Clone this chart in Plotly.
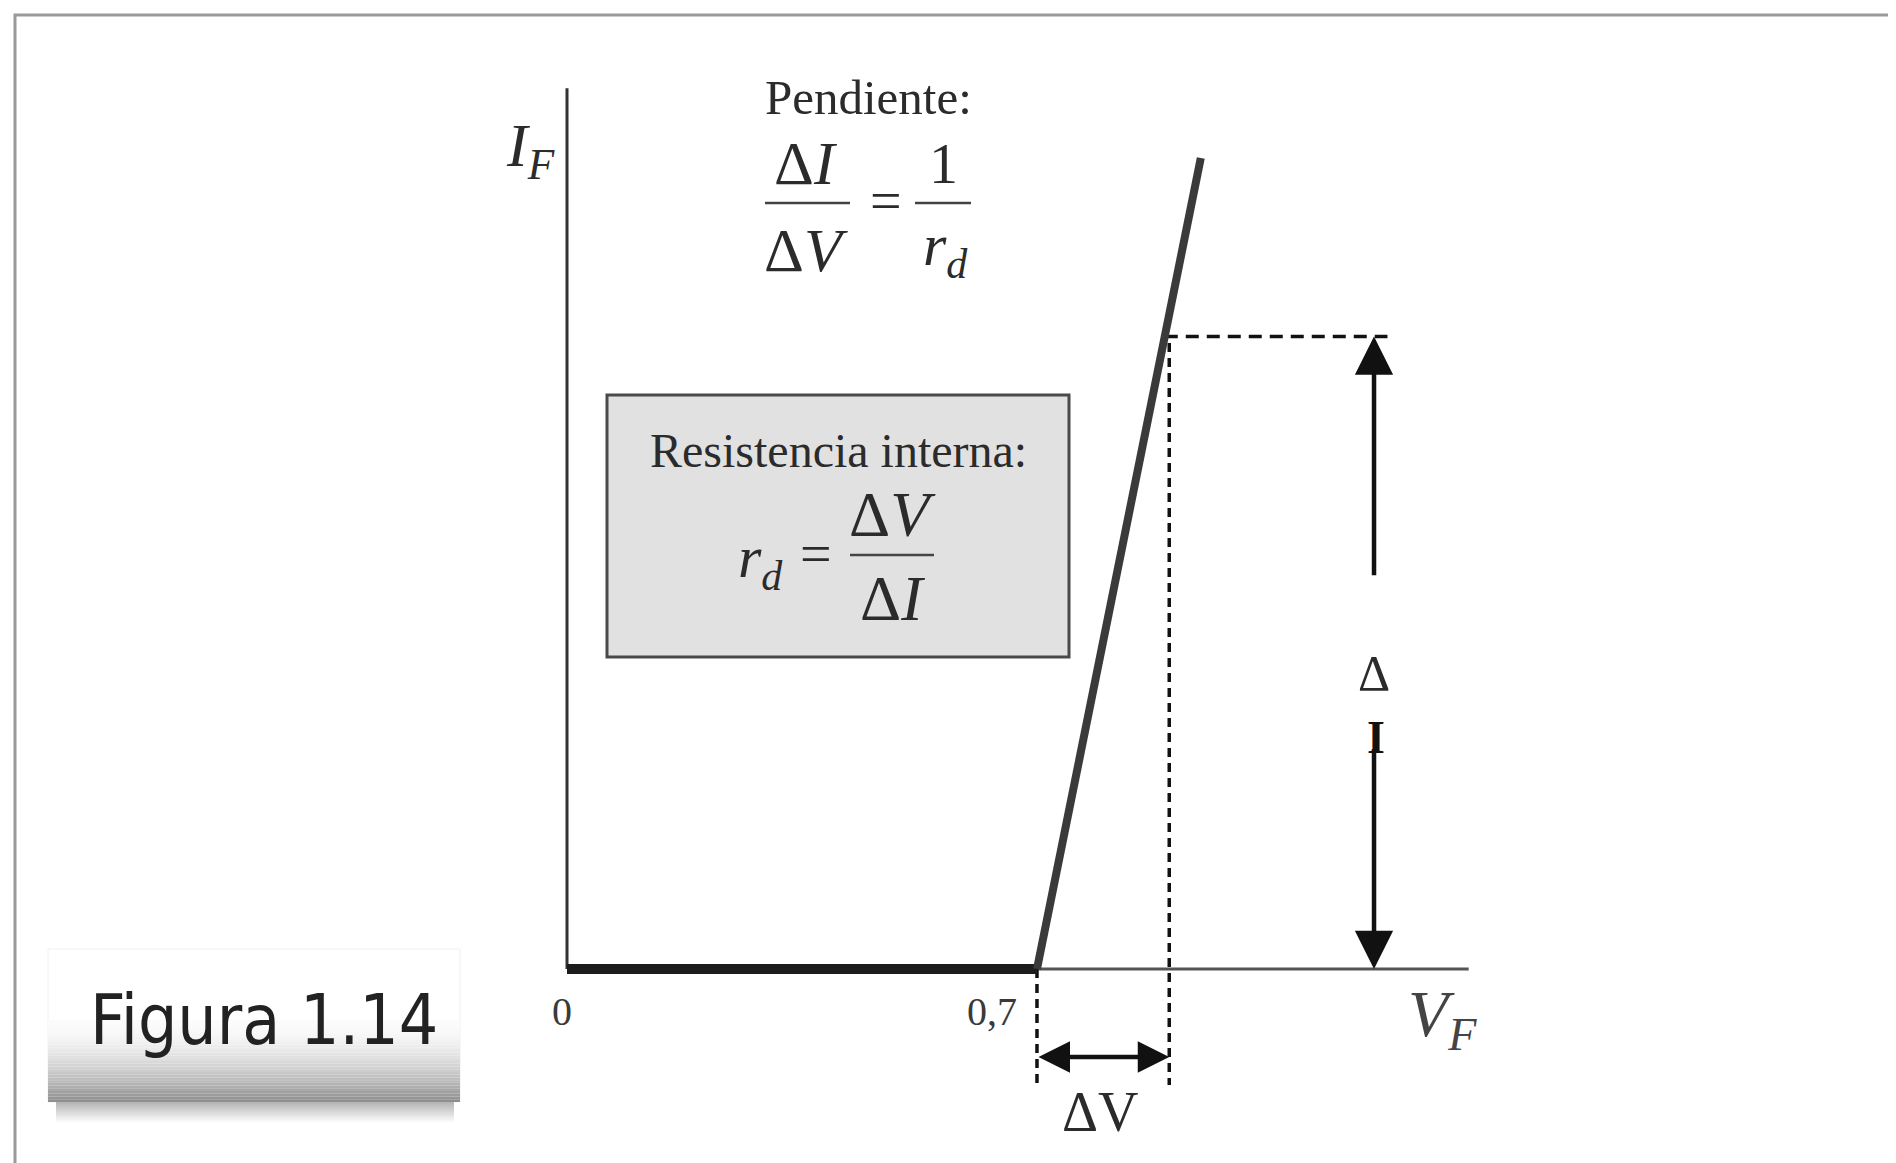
import plotly.graph_objects as go

# ---------------- data ----------------
V_curve = [0.0, 0.7, 0.944]      # diode piecewise-linear model (V)
I_curve = [0.0, 0.0, 10.0]       # forward current (arbitrary units)
V_knee = 0.7
V_op = 0.897                     # end of ΔV interval
I_op = 7.8                       # top of ΔI interval
V_axis_max = 1.343
I_axis_max = 10.86
V_dI_arrow = 1.202               # where the ΔI arrow is drawn
tick_vals = [0.0, 0.7]
tick_text = ["0", "0,7"]

# ---------------- layout geometry ----------------
W, H = 1896, 1163
OFF = 8                    # page offset of the figure (body margin)
X0, Y0 = 567 - OFF, 969 - OFF   # figure-pixel position of the origin
SX, SY = 671.4, 81.1       # pixels per volt / per current unit
xr = [-X0 / SX, (W - X0) / SX]
yr = [-(H - Y0) / SY, Y0 / SY]

def px(x):
    return (x - OFF) / W

def py(y):
    return 1 - (y - OFF) / H

def Iat(ypx):
    return (Y0 + OFF - ypx) / SY

SERIF = "Liberation Serif, Times New Roman, serif"
TXT = "#2b2b2b"

fig = go.Figure()

# axes
fig.add_trace(go.Scatter(x=[0, V_axis_max], y=[0, 0], mode="lines",
                         line=dict(color="#555555", width=3), hoverinfo="skip"))
fig.add_trace(go.Scatter(x=[0, 0], y=[0, I_axis_max], mode="lines",
                         line=dict(color="#333333", width=3), hoverinfo="skip"))

# dashed guides
V_cross = V_curve[1] + (V_curve[2] - V_curve[1]) * I_op / I_curve[2]
fig.add_trace(go.Scatter(x=[V_cross, V_dI_arrow + 0.02], y=[I_op, I_op], mode="lines",
                         line=dict(color="#111111", width=3.5, dash="13px,8px"), hoverinfo="skip"))
I_low = Iat(1085)
fig.add_trace(go.Scatter(x=[V_op, V_op], y=[I_op - 0.08, I_low], mode="lines",
                         line=dict(color="#111111", width=3.5, dash="9px,6px"), hoverinfo="skip"))
fig.add_trace(go.Scatter(x=[V_knee, V_knee], y=[0, I_low], mode="lines",
                         line=dict(color="#111111", width=3.5, dash="9px,6px"), hoverinfo="skip"))

# characteristic curve
fig.add_trace(go.Scatter(x=V_curve[:2], y=I_curve[:2], mode="lines",
                         line=dict(color="#1c1c1c", width=10), hoverinfo="skip"))
fig.add_trace(go.Scatter(x=V_curve[1:], y=I_curve[1:], mode="lines",
                         line=dict(color="#3a3a3a", width=8), hoverinfo="skip"))

ann = []
shapes = []

# ΔI arrows
ann.append(dict(x=V_dI_arrow, y=I_op, ax=V_dI_arrow, ay=I_op * 0.62, xref="x", yref="y",
                axref="x", ayref="y", text="", showarrow=True, arrowhead=2,
                arrowsize=1.7, arrowwidth=4.5, arrowcolor="#111111"))
ann.append(dict(x=V_dI_arrow, y=0, ax=V_dI_arrow, ay=I_op * 0.35, xref="x", yref="y",
                axref="x", ayref="y", text="", showarrow=True, arrowhead=2,
                arrowsize=1.7, arrowwidth=4.5, arrowcolor="#111111"))
# ΔV double arrow
I_dv = Iat(1057)
ann.append(dict(x=V_op, y=I_dv, ax=V_knee, ay=I_dv, xref="x", yref="y",
                axref="x", ayref="y", text="", showarrow=True, arrowhead=2,
                startarrowhead=2, arrowside="end+start", arrowsize=1.4, startarrowsize=1.4,
                arrowwidth=4.5, arrowcolor="#111111"))

def T(text, x, y, size, family=SERIF, color=TXT, xanchor="center"):
    ann.append(dict(text=text, x=px(x), y=py(y), xref="paper", yref="paper",
                    showarrow=False, xanchor=xanchor, yanchor="middle",
                    font=dict(family=family, size=size, color=color)))

def hline(x1, x2, y, w=2.5, color="#444444"):
    shapes.append(dict(type="line", xref="paper", yref="paper",
                       x0=px(x1), x1=px(x2), y0=py(y), y1=py(y),
                       line=dict(color=color, width=w)))

# tick labels
for v, t, sh in zip(tick_vals, tick_text, [-5, -45]):
    ann.append(dict(text=t, x=v, y=py(1011), xref="x", yref="paper", showarrow=False,
                    xshift=sh, xanchor="center", yanchor="middle",
                    font=dict(family=SERIF, size=40, color="#3a3a3a")))

# axis labels
T("<i>I</i><sub><i>F</i></sub>", 530, 150, 62)
T("<i>V</i><sub><i>F</i></sub>", 1442, 1018, 66, color="#444444")
T("ΔV", 1100, 1112, 56)
T("Δ", 1374, 673, 50)
T("<b>I</b>", 1376, 737, 46, color="#111111")

# slope formula
T("Pendiente:", 868, 97, 49)
T("Δ<i>I</i>", 806, 163, 62)
hline(765, 850, 203)
T("Δ<i>V</i>", 806, 250, 62)
T("=", 886, 201, 56)
T("1", 943, 163, 58)
hline(915, 971, 203)
T("<i>r</i><sub><i>d</i></sub>", 945, 250, 60)

# internal resistance box
shapes.append(dict(type="rect", xref="paper", yref="paper", x0=px(607), x1=px(1069),
                   y0=py(395), y1=py(657), fillcolor="#e1e1e1",
                   line=dict(color="#4a4a4a", width=3), layer="below"))
T("Resistencia interna:", 838, 450, 48)
T("<i>r</i><sub><i>d</i></sub>", 760, 562, 60)
T("=", 816, 554, 56)
T("Δ<i>V</i>", 892, 514, 64)
hline(850, 934, 555)
T("Δ<i>I</i>", 892, 598, 64)

# "Figura 1.14" label box with shading
bx0, bx1, by0, by1 = 48, 460, 949, 1102
shapes.append(dict(type="rect", xref="paper", yref="paper", x0=px(bx0), x1=px(bx1),
                   y0=py(by0), y1=py(by1), fillcolor="#ffffff",
                   line=dict(color="#f0f0f0", width=1), layer="below"))
n = 30
g0, g1 = 252, 140
ys, ye = 1020, by1
for k in range(n):
    a = ys + (ye - ys) * k / n
    b = ys + (ye - ys) * (k + 1) / n
    t = (k + 0.5) / n
    g = int(g0 + (g1 - g0) * t ** 1.8)
    shapes.append(dict(type="rect", xref="paper", yref="paper", x0=px(bx0), x1=px(bx1),
                       y0=py(a), y1=py(b), fillcolor=f"rgb({g},{g},{g})",
                       line=dict(width=0), layer="below"))
m = 10
for k in range(m):
    a = by1 + 2 * k
    b = by1 + 2 * (k + 1)
    t = (k + 0.5) / m
    g = int(180 + (252 - 180) * t)
    shapes.append(dict(type="rect", xref="paper", yref="paper", x0=px(bx0 + 8), x1=px(bx1 - 6),
                       y0=py(a), y1=py(b), fillcolor=f"rgb({g},{g},{g})",
                       line=dict(width=0), layer="below"))
T("Figura 1.14", 264, 1020, 69,
  family="Liberation Sans Narrow, DejaVu Sans Condensed, Arial Narrow, sans-serif",
  color="#222222")

# outer frame
shapes.append(dict(type="rect", xref="paper", yref="paper", x0=px(15), x1=px(1930),
                   y0=py(15), y1=py(1220), line=dict(color="#9a9a9a", width=3),
                   fillcolor="rgba(0,0,0,0)", layer="below"))

fig.update_layout(
    width=W, height=H,
    margin=dict(l=0, r=0, t=0, b=0),
    paper_bgcolor="white", plot_bgcolor="white",
    showlegend=False,
    xaxis=dict(range=xr, visible=False, fixedrange=True),
    yaxis=dict(range=yr, visible=False, fixedrange=True),
    annotations=ann, shapes=shapes,
)

fig.write_html("out.html")
